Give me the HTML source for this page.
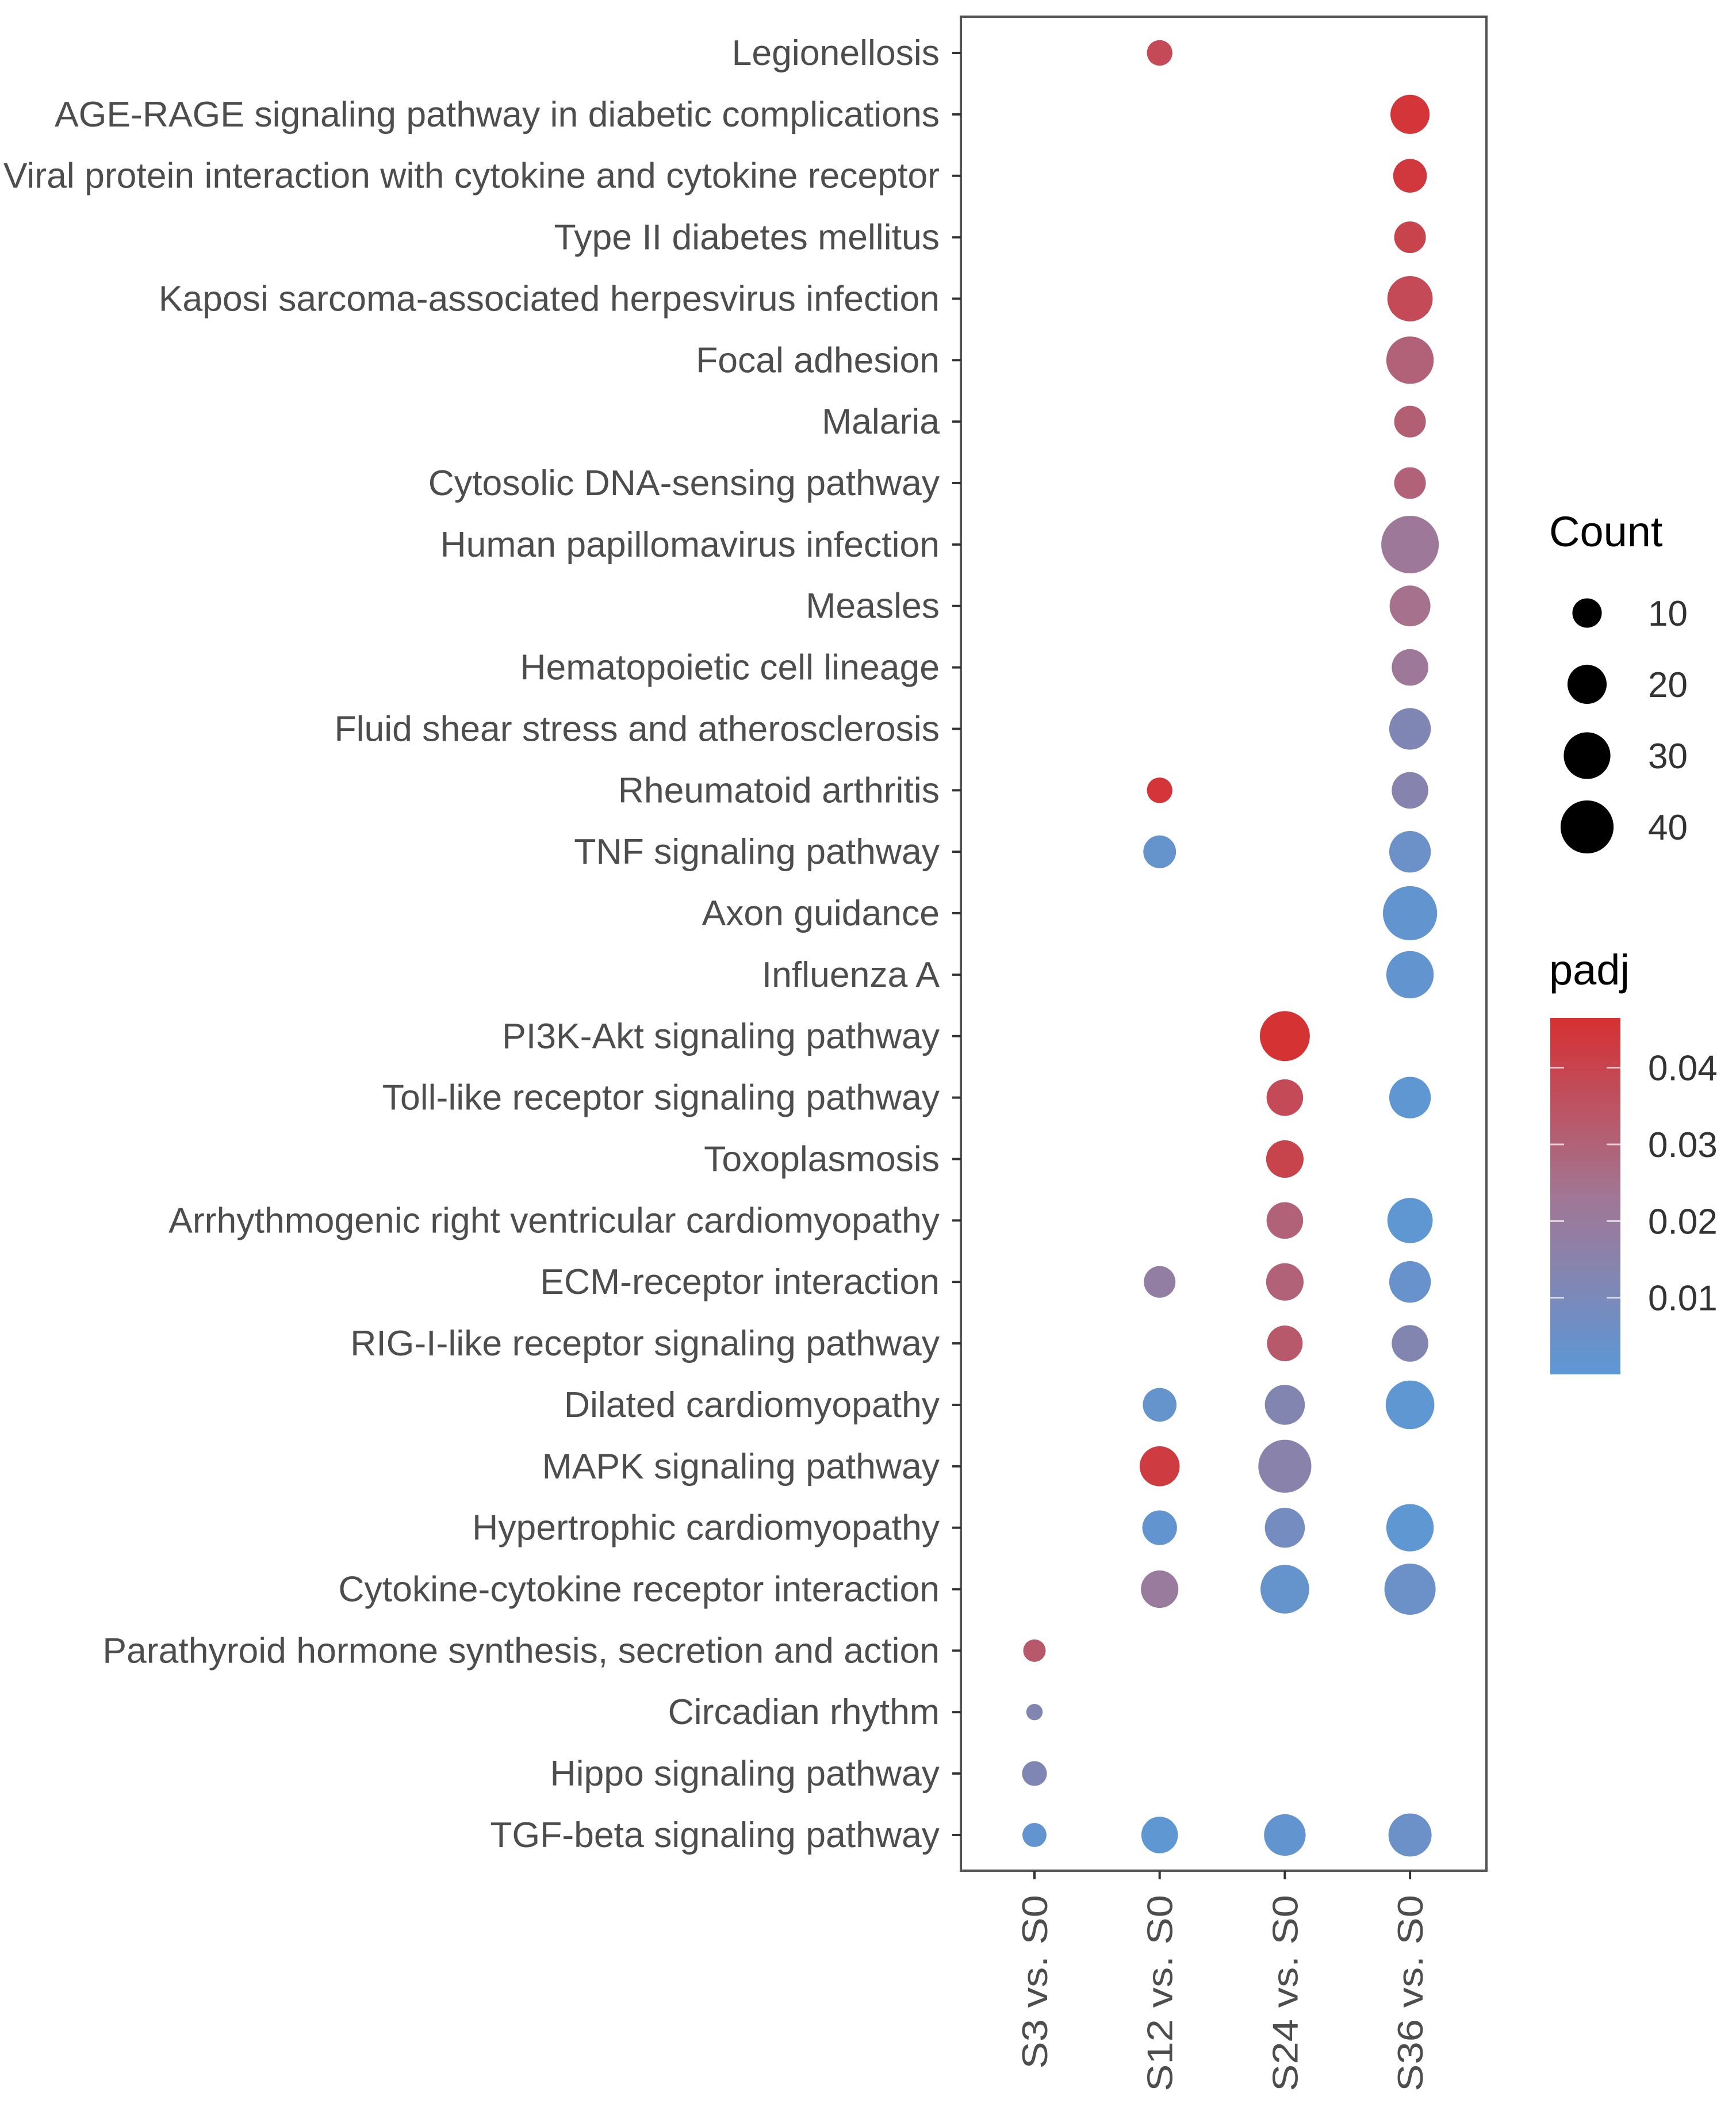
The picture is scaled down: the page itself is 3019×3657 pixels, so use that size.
<!DOCTYPE html>
<html><head><meta charset="utf-8"><style>
html,body{margin:0;padding:0;background:#fff;}
svg{display:block;font-family:"Liberation Sans",sans-serif;}
</style></head><body>
<svg id="chart" width="3019" height="3657" viewBox="0 0 3019 3657" xmlns="http://www.w3.org/2000/svg">
<rect x="0" y="0" width="3019" height="3657" fill="#fff"/>
<g id="marks"></g>
</svg>
<script>
const pathways = ["Legionellosis","AGE-RAGE signaling pathway in diabetic complications","Viral protein interaction with cytokine and cytokine receptor","Type II diabetes mellitus","Kaposi sarcoma-associated herpesvirus infection","Focal adhesion","Malaria","Cytosolic DNA-sensing pathway","Human papillomavirus infection","Measles","Hematopoietic cell lineage","Fluid shear stress and atherosclerosis","Rheumatoid arthritis","TNF signaling pathway","Axon guidance","Influenza A","PI3K-Akt signaling pathway","Toll-like receptor signaling pathway","Toxoplasmosis","Arrhythmogenic right ventricular cardiomyopathy","ECM-receptor interaction","RIG-I-like receptor signaling pathway","Dilated cardiomyopathy","MAPK signaling pathway","Hypertrophic cardiomyopathy","Cytokine-cytokine receptor interaction","Parathyroid hormone synthesis, secretion and action","Circadian rhythm","Hippo signaling pathway","TGF-beta signaling pathway"];
const groups = ["S3 vs. S0","S12 vs. S0","S24 vs. S0","S36 vs. S0"];
const pointPathway = ["Legionellosis","AGE-RAGE signaling pathway in diabetic complications","Viral protein interaction with cytokine and cytokine receptor","Type II diabetes mellitus","Kaposi sarcoma-associated herpesvirus infection","Focal adhesion","Malaria","Cytosolic DNA-sensing pathway","Human papillomavirus infection","Measles","Hematopoietic cell lineage","Fluid shear stress and atherosclerosis","Rheumatoid arthritis","Rheumatoid arthritis","TNF signaling pathway","TNF signaling pathway","Axon guidance","Influenza A","PI3K-Akt signaling pathway","Toll-like receptor signaling pathway","Toll-like receptor signaling pathway","Toxoplasmosis","Arrhythmogenic right ventricular cardiomyopathy","Arrhythmogenic right ventricular cardiomyopathy","ECM-receptor interaction","ECM-receptor interaction","ECM-receptor interaction","RIG-I-like receptor signaling pathway","RIG-I-like receptor signaling pathway","Dilated cardiomyopathy","Dilated cardiomyopathy","Dilated cardiomyopathy","MAPK signaling pathway","MAPK signaling pathway","Hypertrophic cardiomyopathy","Hypertrophic cardiomyopathy","Hypertrophic cardiomyopathy","Cytokine-cytokine receptor interaction","Cytokine-cytokine receptor interaction","Cytokine-cytokine receptor interaction","Parathyroid hormone synthesis, secretion and action","Circadian rhythm","Hippo signaling pathway","TGF-beta signaling pathway","TGF-beta signaling pathway","TGF-beta signaling pathway","TGF-beta signaling pathway"];
const pointGroup = ["S12 vs. S0","S36 vs. S0","S36 vs. S0","S36 vs. S0","S36 vs. S0","S36 vs. S0","S36 vs. S0","S36 vs. S0","S36 vs. S0","S36 vs. S0","S36 vs. S0","S36 vs. S0","S12 vs. S0","S36 vs. S0","S12 vs. S0","S36 vs. S0","S36 vs. S0","S36 vs. S0","S24 vs. S0","S24 vs. S0","S36 vs. S0","S24 vs. S0","S24 vs. S0","S36 vs. S0","S12 vs. S0","S24 vs. S0","S36 vs. S0","S24 vs. S0","S36 vs. S0","S12 vs. S0","S24 vs. S0","S36 vs. S0","S12 vs. S0","S24 vs. S0","S12 vs. S0","S24 vs. S0","S36 vs. S0","S12 vs. S0","S24 vs. S0","S36 vs. S0","S3 vs. S0","S3 vs. S0","S3 vs. S0","S3 vs. S0","S12 vs. S0","S24 vs. S0","S36 vs. S0"];
const pointCount = [7,20,14,12,28,31,12,12,48,22,17,23,7,17,13,23,42,31,35,17,23,18,17,28,12,18,23,16,17,14,21,33,21,40,15,21,31,18,33,37,5,2,6.5,6,17,23,25];
const pointPadj = [0.038,0.045,0.044,0.040,0.038,0.030,0.031,0.030,0.022,0.025,0.022,0.012,0.045,0.014,0.003,0.005,0.002,0.002,0.046,0.038,0.001,0.040,0.030,0.001,0.018,0.030,0.004,0.033,0.013,0.003,0.013,0.001,0.043,0.015,0.002,0.008,0.001,0.020,0.003,0.005,0.033,0.013,0.012,0.002,0.001,0.002,0.005];
const sizeBreaks = [10,20,30,40];
const colorTicks = [0.01,0.02,0.03,0.04];

const NS="http://www.w3.org/2000/svg";
const svg=document.getElementById('chart');
const g=document.getElementById('marks');
const P={l:1671,r:2585,t:29,b:3253};
const rowY0=92,rowStep=106.86,colX0=1799,colStep=217.7;
const yPos=name=>rowY0+pathways.indexOf(name)*rowStep;
const xPos=name=>colX0+groups.indexOf(name)*colStep;
const rScale=c=>5+6.5*Math.sqrt(c);
const pMin=0,pMax=0.0465;
const lo=[92,152,214],mid=[162,118,148],hi=[214,48,50];
function col(p){let t=Math.max(0,Math.min(1,(p-pMin)/(pMax-pMin)));let a,b,u;
 if(t<0.5){a=lo;b=mid;u=t/0.5;}else{a=mid;b=hi;u=(t-0.5)/0.5;}
 return 'rgb('+a.map((v,i)=>Math.round(v+(b[i]-v)*u)).join(',')+')';}
function mk(tag,attrs,parent){const e=document.createElementNS(NS,tag);for(const k in attrs)e.setAttribute(k,attrs[k]);(parent||g).appendChild(e);return e;}

let panel=mk('rect',{x:P.l,y:P.t,width:P.r-P.l,height:P.b-P.t,fill:'none',stroke:'#555',"stroke-width":4});



pathways.forEach(p=>{const y=yPos(p);
 let t=mk('line',{x1:P.l-15,x2:P.l,y1:y,y2:y,stroke:'#333',"stroke-width":4});
 
 
 let tx=mk('text',{x:P.l-37,y:y+21,"text-anchor":"end","font-size":62.5,fill:'#4d4d4d'});
 tx.textContent=p;
 
 
});
groups.forEach(s=>{const x=xPos(s);
 let t=mk('line',{x1:x,x2:x,y1:P.b,y2:P.b+15,stroke:'#333',"stroke-width":4});
 
 
 let tx=mk('text',{x:0,y:0,"text-anchor":"end","font-size":62,fill:'#4d4d4d',transform:'translate('+(x+22)+','+(P.b+42)+') rotate(-90) scale(1.14,1)'});
 tx.textContent=s;
 
 
});
pointCount.forEach((c,i)=>{
 let e=mk('circle',{cx:xPos(pointGroup[i]),cy:yPos(pointPathway[i]),r:rScale(c),fill:col(pointPadj[i])});
 
 
});
let ct=mk('text',{x:2694,y:950,"font-size":74,fill:'#000'});ct.textContent='Count';


sizeBreaks.forEach((b,i)=>{const y=1066+i*124;
 let c=mk('circle',{cx:2760,cy:y,r:rScale(b),fill:'#000'});
 
 
 let t=mk('text',{x:2866,y:y+22,"font-size":62,fill:'#333'});t.textContent=b;
 
 
});
let pt=mk('text',{x:2694,y:1712,"font-size":74,fill:'#000'});pt.textContent='padj';


const defs=mk('defs',{},svg);
const grad=mk('linearGradient',{id:'cg',x1:0,y1:1,x2:0,y2:0},defs);
for(let k=0;k<=10;k++){const v=pMin+(pMax-pMin)*k/10;mk('stop',{offset:k/10,"stop-color":col(v)},grad);}
const cbTop=1770,cbBot=2390;
const cy=v=>cbBot-(v-pMin)/(pMax-pMin)*(cbBot-cbTop);
let cb=mk('rect',{x:2696,y:cbTop,width:122,height:cbBot-cbTop,fill:'url(#cg)'});


colorTicks.forEach(v=>{const y=cy(v);
 let a=mk('line',{x1:2696,x2:2720,y1:y,y2:y,stroke:'#fff',"stroke-width":3,opacity:0.7});
 
 
 let b=mk('line',{x1:2794,x2:2818,y1:y,y2:y,stroke:'#fff',"stroke-width":3,opacity:0.7});
 
 
 let t=mk('text',{x:2866,y:y+22,"font-size":62,fill:'#333'});t.textContent=v.toFixed(2);
 
 
});
</script>
</body></html>
